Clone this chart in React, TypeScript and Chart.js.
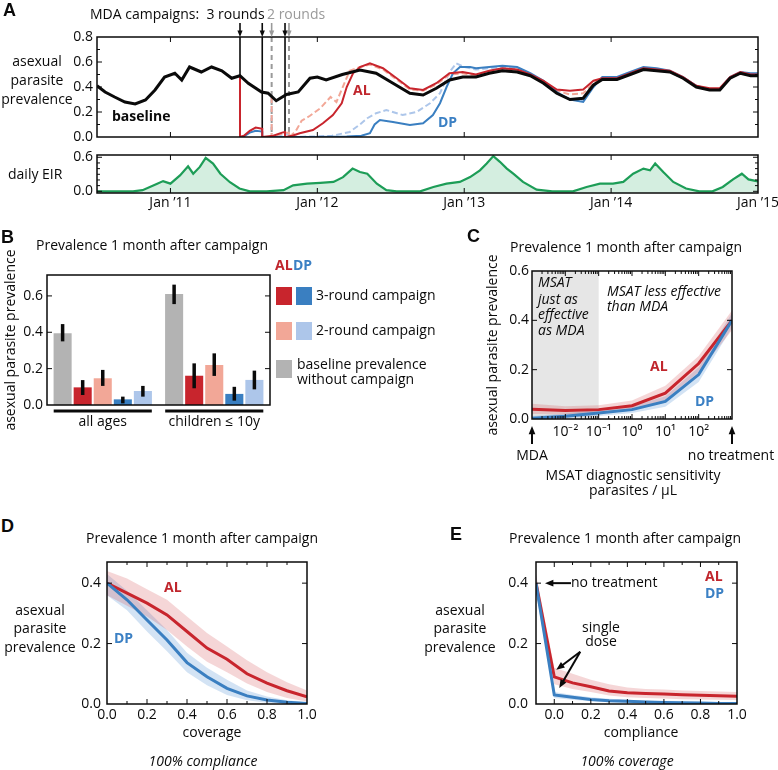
import React, { useEffect, useRef } from 'react';
import { Chart, registerables } from 'chart.js';

Chart.register(...registerables);

const FONT = "'Open Sans', sans-serif";
const INK = '#0a0a0a';
const RED = '#c8252d';
const PINK = '#f2a797';
const BLUE = '#3a7fc1';
const LBLUE = '#adc6ea';
const GRAY = '#b3b3b3';
const GREEN = '#1d9d57';

// ---------------- Panel A: prevalence time series (decimal years) ----------------
const yearTicks = [2011, 2012, 2013, 2014, 2015];
const threeRounds = [2011.4735, 2011.625, 2011.78];
const twoRounds = [2011.689, 2011.807];

const baseT = [2010.5, 2010.555, 2010.62, 2010.69, 2010.76, 2010.83, 2010.895, 2010.96, 2011.03, 2011.077, 2011.13, 2011.21, 2011.28, 2011.35, 2011.417, 2011.473, 2011.53, 2011.62, 2011.665, 2011.72, 2011.79, 2011.87, 2011.95, 2012.0, 2012.06, 2012.17, 2012.29, 2012.4, 2012.515, 2012.63, 2012.72, 2012.81, 2012.9, 2012.99, 2013.08, 2013.17, 2013.26, 2013.36, 2013.45, 2013.54, 2013.63, 2013.72, 2013.81, 2013.88, 2013.94, 2014.04, 2014.13, 2014.22, 2014.31, 2014.4, 2014.49, 2014.58, 2014.67, 2014.74, 2014.81, 2014.88, 2014.95, 2015.0];
const baseV = [0.41, 0.36, 0.32, 0.28, 0.264, 0.296, 0.376, 0.48, 0.51, 0.456, 0.56, 0.52, 0.56, 0.53, 0.47, 0.49, 0.43, 0.36, 0.35, 0.29, 0.34, 0.36, 0.47, 0.48, 0.456, 0.5, 0.536, 0.51, 0.43, 0.35, 0.336, 0.39, 0.456, 0.48, 0.48, 0.51, 0.53, 0.52, 0.49, 0.43, 0.35, 0.3, 0.31, 0.416, 0.46, 0.46, 0.5, 0.54, 0.53, 0.52, 0.47, 0.4, 0.376, 0.376, 0.47, 0.51, 0.49, 0.49];

const al3T = [2011.4735, 2011.4735, 2011.5, 2011.54, 2011.58, 2011.615, 2011.625, 2011.625, 2011.7, 2011.76, 2011.78, 2011.78, 2011.83, 2011.88, 2011.97, 2012.038, 2012.106, 2012.166, 2012.2, 2012.243, 2012.29, 2012.358, 2012.447, 2012.54, 2012.63, 2012.72, 2012.81, 2012.9, 2012.99];
const al3V = [0.49, 0, 0.01, 0.05, 0.075, 0.068, 0.065, 0, 0.01, 0.035, 0.04, 0, 0.01, 0.03, 0.056, 0.11, 0.176, 0.27, 0.4, 0.51, 0.56, 0.59, 0.55, 0.47, 0.39, 0.376, 0.43, 0.51, 0.52];
const al2T = [2011.689, 2011.689, 2011.74, 2011.79, 2011.807, 2011.807, 2011.85, 2011.893, 2011.95, 2012.02, 2012.09, 2012.13, 2012.17, 2012.22, 2012.29, 2012.358, 2012.447, 2012.54, 2012.63, 2012.72, 2012.81, 2012.9, 2012.99];
const al2V = [0.32, 0, 0.02, 0.035, 0.035, 0, 0.04, 0.13, 0.17, 0.23, 0.32, 0.28, 0.39, 0.53, 0.56, 0.58, 0.54, 0.46, 0.38, 0.37, 0.42, 0.5, 0.51];
const dp3T = [2011.4735, 2011.4735, 2011.5, 2011.54, 2011.58, 2011.615, 2011.625, 2011.625, 2011.7, 2011.8, 2011.9, 2012.0, 2012.1, 2012.2, 2012.3, 2012.358, 2012.39, 2012.426, 2012.515, 2012.63, 2012.72, 2012.787, 2012.835, 2012.88, 2012.923, 2012.971, 2013.04];
const dp3V = [0.49, 0, 0.005, 0.035, 0.05, 0.045, 0.04, 0, 0, 0, 0, 0, 0.003, 0.005, 0.01, 0.03, 0.1, 0.136, 0.12, 0.096, 0.11, 0.176, 0.27, 0.4, 0.51, 0.56, 0.56];
const dp2T = [2011.689, 2011.689, 2011.75, 2011.795, 2011.807, 2011.807, 2011.9, 2012.0, 2012.1, 2012.22, 2012.29, 2012.34, 2012.4, 2012.47, 2012.58, 2012.676, 2012.767, 2012.835, 2012.9, 2012.946, 2013.0];
const dp2V = [0.32, 0, 0.015, 0.025, 0.025, 0, 0.003, 0.005, 0.01, 0.04, 0.1, 0.15, 0.19, 0.216, 0.176, 0.2, 0.27, 0.35, 0.52, 0.59, 0.56];

const lateT = [2013.08, 2013.17, 2013.26, 2013.36, 2013.45, 2013.54, 2013.63, 2013.72, 2013.81, 2013.88, 2013.94, 2014.04, 2014.13, 2014.22, 2014.31, 2014.4, 2014.49, 2014.58, 2014.67, 2014.74, 2014.81, 2014.88, 2014.95, 2015.0];
const al3Late = [0.5, 0.53, 0.55, 0.54, 0.5, 0.45, 0.38, 0.37, 0.38, 0.45, 0.47, 0.47, 0.51, 0.55, 0.54, 0.53, 0.48, 0.41, 0.39, 0.39, 0.48, 0.52, 0.5, 0.5];
const al2Late = [0.49, 0.52, 0.54, 0.53, 0.49, 0.44, 0.37, 0.34, 0.35, 0.43, 0.47, 0.46, 0.5, 0.54, 0.53, 0.52, 0.47, 0.4, 0.38, 0.38, 0.47, 0.51, 0.49, 0.49];
const dp3Late = [0.55, 0.56, 0.57, 0.56, 0.51, 0.45, 0.36, 0.3, 0.28, 0.4, 0.48, 0.48, 0.52, 0.56, 0.55, 0.53, 0.48, 0.41, 0.38, 0.385, 0.48, 0.52, 0.51, 0.51];
const dp2Late = [0.54, 0.55, 0.56, 0.55, 0.5, 0.44, 0.35, 0.3, 0.29, 0.41, 0.47, 0.47, 0.51, 0.55, 0.54, 0.52, 0.47, 0.4, 0.38, 0.38, 0.47, 0.51, 0.5, 0.51];

const eirT = [2010.5, 2010.745, 2010.81, 2010.91, 2010.95, 2011.0, 2011.065, 2011.12, 2011.155, 2011.2, 2011.24, 2011.29, 2011.34, 2011.405, 2011.47, 2011.54, 2011.655, 2011.77, 2011.835, 2011.93, 2012.02, 2012.11, 2012.175, 2012.24, 2012.29, 2012.34, 2012.405, 2012.47, 2012.54, 2012.7, 2012.79, 2012.88, 2012.97, 2013.04, 2013.107, 2013.153, 2013.198, 2013.243, 2013.29, 2013.334, 2013.4, 2013.493, 2013.6, 2013.74, 2013.833, 2013.924, 2014.013, 2014.083, 2014.15, 2014.22, 2014.265, 2014.3, 2014.355, 2014.423, 2014.51, 2014.6, 2014.69, 2014.76, 2014.83, 2014.89, 2014.935, 2014.99, 2015.0];
const eirV = [0, 0, 0.02, 0.135, 0.18, 0.135, 0.28, 0.44, 0.31, 0.43, 0.59, 0.49, 0.31, 0.16, 0.05, 0, 0, 0.02, 0.106, 0.135, 0.15, 0.165, 0.25, 0.4, 0.34, 0.31, 0.135, 0.02, 0, 0, 0.076, 0.135, 0.165, 0.25, 0.37, 0.49, 0.62, 0.52, 0.4, 0.31, 0.165, 0.03, 0, 0, 0.076, 0.135, 0.135, 0.165, 0.31, 0.4, 0.37, 0.49, 0.34, 0.165, 0.05, 0, 0, 0.076, 0.21, 0.31, 0.21, 0.18, 0.17];

// ---------------- Panel B: bars ----------------
const groups = ['all ages', 'children \u2264 10y'];
const barBase = [0.394, 0.611];
const barBaseLo = [0.35, 0.555];
const barBaseHi = [0.445, 0.662];
const barAL3 = [0.097, 0.161];
const barAL3Lo = [0.055, 0.092];
const barAL3Hi = [0.137, 0.229];
const barAL2 = [0.147, 0.22];
const barAL2Lo = [0.105, 0.16];
const barAL2Hi = [0.193, 0.284];
const barDP3 = [0.031, 0.061];
const barDP3Lo = [0.009, 0.024];
const barDP3Hi = [0.046, 0.1];
const barDP2 = [0.077, 0.138];
const barDP2Lo = [0.046, 0.086];
const barDP2Hi = [0.105, 0.189];

// ---------------- Panel C: MSAT sensitivity ----------------
const msatX = [0.001, 0.01, 0.1, 1, 10, 100, 1000];
const cAL = [0.04, 0.034, 0.038, 0.054, 0.105, 0.225, 0.4];
const cALhi = [0.062, 0.052, 0.056, 0.075, 0.135, 0.255, 0.44];
const cALlo = [0.02, 0.018, 0.021, 0.034, 0.078, 0.19, 0.36];
const cDP = [0.003, 0.011, 0.024, 0.038, 0.071, 0.18, 0.4];
const cDPhi = [0.012, 0.022, 0.037, 0.052, 0.092, 0.21, 0.43];
const cDPlo = [0, 0.003, 0.012, 0.024, 0.05, 0.15, 0.37];
const cTicks = [0.01, 0.1, 1, 10, 100];

// ---------------- Panel D: coverage ----------------
const coverage = [0, 0.1, 0.2, 0.3, 0.4, 0.5, 0.6, 0.7, 0.8, 0.9, 1.0];
const dAL = [0.4, 0.367, 0.334, 0.295, 0.24, 0.185, 0.148, 0.1, 0.069, 0.044, 0.024];
const dALhi = [0.44, 0.415, 0.38, 0.345, 0.29, 0.235, 0.19, 0.145, 0.105, 0.072, 0.045];
const dALlo = [0.36, 0.325, 0.29, 0.245, 0.19, 0.14, 0.105, 0.068, 0.04, 0.02, 0.008];
const dDP = [0.4, 0.345, 0.278, 0.212, 0.137, 0.09, 0.052, 0.027, 0.013, 0.006, 0.002];
const dDPhi = [0.43, 0.375, 0.31, 0.245, 0.17, 0.12, 0.08, 0.045, 0.025, 0.012, 0.005];
const dDPlo = [0.36, 0.31, 0.24, 0.175, 0.105, 0.062, 0.03, 0.012, 0.004, 0.001, 0];

// ---------------- Panel E: compliance ----------------
const compliance = [-0.1, 0, 0.1, 0.2, 0.3, 0.4, 0.5, 0.6, 0.7, 0.8, 0.9, 1.0];
const eAL = [0.4, 0.09, 0.07, 0.057, 0.043, 0.037, 0.035, 0.033, 0.031, 0.029, 0.027, 0.026];
const eALhi = [0.43, 0.12, 0.1, 0.08, 0.065, 0.055, 0.05, 0.048, 0.045, 0.043, 0.041, 0.04];
const eALlo = [0.37, 0.065, 0.05, 0.04, 0.028, 0.022, 0.02, 0.018, 0.016, 0.015, 0.014, 0.013];
const eDP = [0.4, 0.03, 0.022, 0.015, 0.011, 0.009, 0.007, 0.005, 0.004, 0.003, 0.002, 0.002];
const eDPhi = [0.43, 0.04, 0.03, 0.022, 0.017, 0.014, 0.011, 0.009, 0.007, 0.006, 0.005, 0.004];
const eDPlo = [0.37, 0.02, 0.014, 0.009, 0.006, 0.004, 0.003, 0.002, 0.001, 0.001, 0, 0];
const unitTicks = [0, 0.2, 0.4, 0.6, 0.8, 1.0];

// ---------------- helpers ----------------
const zip = (t: number[], v: number[]) =>
  t.slice(0, Math.min(t.length, v.length)).map((x, i) => ({ x, y: v[i] }));

const seg = (ctx: any, x1: number, y1: number, x2: number, y2: number) => {
  ctx.beginPath();
  ctx.moveTo(x1, y1);
  ctx.lineTo(x2, y2);
  ctx.stroke();
};

const arrow = (ctx: any, x1: number, y1: number, x2: number, y2: number, color = INK, lw = 2, head = 8) => {
  const ang = Math.atan2(y2 - y1, x2 - x1);
  ctx.save();
  ctx.strokeStyle = color;
  ctx.fillStyle = color;
  ctx.lineWidth = lw;
  ctx.setLineDash([]);
  seg(ctx, x1, y1, x2 - Math.cos(ang) * head * 0.7, y2 - Math.sin(ang) * head * 0.7);
  ctx.beginPath();
  ctx.moveTo(x2, y2);
  ctx.lineTo(x2 - head * Math.cos(ang - 0.38), y2 - head * Math.sin(ang - 0.38));
  ctx.lineTo(x2 - head * Math.cos(ang + 0.38), y2 - head * Math.sin(ang + 0.38));
  ctx.closePath();
  ctx.fill();
  ctx.restore();
};

let pid = 0;
type FrameOpt = { xMinor?: number[]; yMinor?: number[]; noX?: boolean; logMinor?: boolean; len?: number };
const frame = (o: FrameOpt) => ({
  id: 'frame' + pid++,
  afterDatasetsDraw(chart: any) {
    const { ctx, chartArea: a, scales } = chart;
    const xs = scales.x;
    const ys = scales.y;
    const L = o.len ?? 5;
    const M = 3;
    ctx.save();
    ctx.strokeStyle = INK;
    ctx.lineWidth = 1;
    const doX = (vals: number[], len: number) =>
      vals.forEach((v) => {
        const p = xs.getPixelForValue(v);
        if (p < a.left + 1 || p > a.right - 1) return;
        seg(ctx, p, a.bottom, p, a.bottom - len);
        seg(ctx, p, a.top, p, a.top + len);
      });
    const doY = (vals: number[], len: number) =>
      vals.forEach((v) => {
        const p = ys.getPixelForValue(v);
        if (p < a.top + 1 || p > a.bottom - 1) return;
        seg(ctx, a.left, p, a.left + len, p);
        seg(ctx, a.right, p, a.right - len, p);
      });
    if (!o.noX) {
      doX(xs.ticks.map((t: any) => t.value), L);
      if (o.xMinor) doX(o.xMinor, M);
      if (o.logMinor) {
        const mins: number[] = [];
        for (let e = -3; e < 3; e++) for (let k = 2; k <= 9; k++) mins.push(k * Math.pow(10, e));
        doX(mins, M);
      }
    }
    doY(ys.ticks.map((t: any) => t.value), L);
    if (o.yMinor) doY(o.yMinor, M);
    ctx.lineWidth = 1.5;
    ctx.strokeRect(a.left, a.top, a.right - a.left, a.bottom - a.top);
    ctx.restore();
  },
});

const tickFont = { size: 14, family: FONT };

const yAxis = (min: number, max: number, ticks: number[], width: number, pad: number, extra: any = {}) => ({
  type: 'linear',
  min,
  max,
  grid: { display: false, drawTicks: false },
  border: { display: false },
  ticks: { padding: pad, color: INK, font: tickFont, callback: (v: any) => Number(v).toFixed(1) },
  afterBuildTicks: (s: any) => {
    s.ticks = ticks.map((value) => ({ value }));
  },
  afterFit: (s: any) => {
    s.width = width;
    s.paddingTop = 0;
    s.paddingBottom = 0;
  },
  ...extra,
});

const xAxis = (min: number, max: number, ticks: number[], height: number, pad: number, cb: any, show = true, extra: any = {}) => ({
  type: 'linear',
  min,
  max,
  grid: { display: false, drawTicks: false },
  border: { display: false },
  ticks: { display: show, padding: pad, color: INK, font: tickFont, maxRotation: 0, autoSkip: false, callback: cb },
  afterBuildTicks: (s: any) => {
    s.ticks = ticks.map((value) => ({ value }));
  },
  afterFit: (s: any) => {
    s.height = height;
    s.paddingLeft = 0;
    s.paddingRight = 0;
  },
  ...extra,
});

const line = (data: any[], color: string, width: number, dash: number[] = []) => ({
  data,
  borderColor: color,
  backgroundColor: color,
  borderWidth: width,
  borderDash: dash,
  pointRadius: 0,
  fill: false,
  tension: 0,
});

const band = (data: any[], bg: string, fill: any) => ({
  data,
  borderColor: 'rgba(0,0,0,0)',
  backgroundColor: bg,
  borderWidth: 0,
  pointRadius: 0,
  fill,
  tension: 0,
});

const baseOpts = (padding: any) => ({
  responsive: false,
  animation: false as const,
  maintainAspectRatio: false,
  layout: { padding },
  plugins: { legend: { display: false }, tooltip: { enabled: false } },
});

const yearLabel = (v: any) => 'Jan \u2019' + String(v).slice(2);
const fmt1 = (v: any) => Number(v).toFixed(1);
const supMap: Record<string, string> = { '-': '\u207B', '0': '\u2070', '1': '\u00B9', '2': '\u00B2', '3': '\u00B3' };
const logLabel = (v: any) =>
  '10' + String(Math.round(Math.log10(Number(v)))).split('').map((c) => supMap[c] || c).join('');

const ALBAND = 'rgba(208,70,75,0.22)';
const DPBAND = 'rgba(80,145,210,0.25)';

// ---------------- chart configs ----------------
function cfgA1(): any {
  const campaigns = {
    id: 'campaigns',
    beforeDatasetsDraw(chart: any) {
      const { ctx, chartArea: a, scales } = chart;
      ctx.save();
      ctx.strokeStyle = INK;
      ctx.lineWidth = 1.6;
      threeRounds.forEach((t) => {
        const p = scales.x.getPixelForValue(t);
        seg(ctx, p, a.top, p, a.bottom);
      });
      ctx.strokeStyle = '#9a9a9a';
      ctx.lineWidth = 2;
      ctx.setLineDash([5, 4]);
      twoRounds.forEach((t) => {
        const p = scales.x.getPixelForValue(t);
        seg(ctx, p, a.top, p, a.bottom);
      });
      ctx.restore();
    },
    afterDraw(chart: any) {
      const { ctx, chartArea: a, scales } = chart;
      threeRounds.forEach((t) => {
        const p = scales.x.getPixelForValue(t);
        arrow(ctx, p, a.top - 14, p, a.top, INK, 1.6, 7);
      });
      twoRounds.forEach((t) => {
        const p = scales.x.getPixelForValue(t);
        arrow(ctx, p, a.top - 14, p, a.top, '#9a9a9a', 1.6, 7);
      });
    },
  };
  return {
    type: 'line',
    data: {
      datasets: [
        line(zip(baseT, baseV), INK, 3),
        line(zip(al3T, al3V).concat(zip(lateT, al3Late)), RED, 2),
        line(zip(dp3T, dp3V).concat(zip(lateT, dp3Late)), BLUE, 2),
        line(zip(al2T, al2V).concat(zip(lateT, al2Late)), PINK, 2, [6, 3]),
        line(zip(dp2T, dp2V).concat(zip(lateT, dp2Late)), LBLUE, 2, [6, 3]),
      ],
    },
    options: {
      ...baseOpts({ top: 17, right: 20, left: 0, bottom: 0 }),
      scales: {
        x: xAxis(2010.5, 2015, yearTicks, 8, 2, yearLabel, false),
        y: yAxis(0, 0.8, [0, 0.2, 0.4, 0.6, 0.8], 97, 4),
      },
    },
    plugins: [campaigns, frame({ yMinor: [0.1, 0.3, 0.5, 0.7] })],
  };
}

function cfgA2(): any {
  return {
    type: 'line',
    data: {
      datasets: [
        {
          ...line(zip(eirT, eirV), GREEN, 2.2),
          fill: 'start',
          backgroundColor: 'rgba(40,170,100,0.2)',
        },
      ],
    },
    options: {
      ...baseOpts({ top: 7, right: 20, left: 0, bottom: 0 }),
      scales: {
        x: xAxis(2010.5, 2015, yearTicks, 35, 2, yearLabel, true),
        y: yAxis(-0.03, 0.64, [0, 0.6], 97, 4),
      },
    },
    plugins: [frame({ yMinor: [0.1, 0.2, 0.3, 0.4, 0.5] })],
  };
}

function cfgB(): any {
  const errLo = [barBaseLo, barAL3Lo, barAL2Lo, barDP3Lo, barDP2Lo];
  const errHi = [barBaseHi, barAL3Hi, barAL2Hi, barDP3Hi, barDP2Hi];
  const extras = {
    id: 'bExtras',
    afterDatasetsDraw(chart: any) {
      const { ctx, chartArea: a, scales } = chart;
      ctx.save();
      ctx.strokeStyle = INK;
      ctx.lineWidth = 3.5;
      errLo.forEach((lo, i) => {
        const meta = chart.getDatasetMeta(i);
        meta.data.forEach((el: any, j: number) => {
          seg(ctx, el.x, scales.y.getPixelForValue(lo[j]), el.x, scales.y.getPixelForValue(errHi[i][j]));
        });
      });
      ctx.lineWidth = 3;
      const half = ((a.right - a.left) / groups.length) * 0.44;
      groups.forEach((_, j) => {
        const c = scales.x.getPixelForValue(j);
        seg(ctx, c - half, a.bottom + 6, c + half, a.bottom + 6);
      });
      ctx.restore();
    },
  };
  const bar = (data: number[], color: string) => ({
    data,
    backgroundColor: color,
    borderWidth: 0,
    barPercentage: 0.9,
    categoryPercentage: 0.9,
  });
  return {
    type: 'bar',
    data: {
      labels: groups,
      datasets: [bar(barBase, GRAY), bar(barAL3, RED), bar(barAL2, PINK), bar(barDP3, BLUE), bar(barDP2, LBLUE)],
    },
    options: {
      ...baseOpts({ top: 35, right: 20, left: 0, bottom: 0 }),
      scales: {
        x: {
          type: 'category',
          grid: { display: false, drawTicks: false },
          border: { display: false },
          ticks: { padding: 9, color: INK, font: tickFont, maxRotation: 0 },
          afterFit: (s: any) => {
            s.height = 35;
            s.paddingLeft = 0;
            s.paddingRight = 0;
          },
        },
        y: yAxis(0, 0.715, [0, 0.2, 0.4, 0.6], 47, 4, {
          title: { display: true, text: 'asexual parasite prevalence', color: INK, font: tickFont, padding: { top: 3, bottom: 0 } },
        }),
      },
    },
    plugins: [extras, frame({ noX: true })],
  };
}

function cfgC(): any {
  const extras = {
    id: 'cExtras',
    beforeDatasetsDraw(chart: any) {
      const { ctx, chartArea: a, scales } = chart;
      const x0 = scales.x.getPixelForValue(msatX[0]);
      const x1 = scales.x.getPixelForValue(0.1);
      ctx.save();
      ctx.fillStyle = '#e6e6e6';
      ctx.fillRect(x0, a.top, x1 - x0, a.bottom - a.top);
      ctx.restore();
    },
    afterDraw(chart: any) {
      const { ctx, chartArea: a, scales } = chart;
      [msatX[0], msatX[msatX.length - 1]].forEach((v) => {
        const p = scales.x.getPixelForValue(v);
        arrow(ctx, p, a.bottom + 25, p, a.bottom + 7, INK, 2, 9);
      });
    },
  };
  return {
    type: 'line',
    data: {
      datasets: [
        line(zip(msatX, cDP), BLUE, 3),
        line(zip(msatX, cAL), RED, 3),
        band(zip(msatX, cALhi), ALBAND, '+1'),
        band(zip(msatX, cALlo), ALBAND, false),
        band(zip(msatX, cDPhi), DPBAND, '+1'),
        band(zip(msatX, cDPlo), DPBAND, false),
      ],
    },
    options: {
      ...baseOpts({ top: 26, right: 46, left: 0, bottom: 0 }),
      scales: {
        x: xAxis(0.001, 1000, cTicks, 30, 5, logLabel, true, { type: 'logarithmic' }),
        y: yAxis(0, 0.6, [0, 0.2, 0.4, 0.6], 51, 3, {
          title: { display: true, text: 'asexual parasite prevalence', color: INK, font: tickFont, padding: { top: 4, bottom: 0 } },
        }),
      },
    },
    plugins: [extras, frame({ logMinor: true })],
  };
}

function cfgD(): any {
  return {
    type: 'line',
    data: {
      datasets: [
        line(zip(coverage, dDP), BLUE, 3),
        line(zip(coverage, dAL), RED, 3),
        band(zip(coverage, dALhi), ALBAND, '+1'),
        band(zip(coverage, dALlo), ALBAND, false),
        band(zip(coverage, dDPhi), DPBAND, '+1'),
        band(zip(coverage, dDPlo), DPBAND, false),
      ],
    },
    options: {
      ...baseOpts({ top: 17, right: 23, left: 0, bottom: 0 }),
      scales: {
        x: xAxis(0, 1, unitTicks, 31, 3, fmt1),
        y: yAxis(0, 0.47, [0, 0.2, 0.4], 52, 6),
      },
    },
    plugins: [frame({ xMinor: [0.1, 0.3, 0.5, 0.7, 0.9] })],
  };
}

function cfgE(): any {
  const extras = {
    id: 'eExtras',
    afterDraw(chart: any) {
      const { ctx } = chart;
      const dp = chart.getDatasetMeta(0).data;
      const al = chart.getDatasetMeta(1).data;
      const p = dp[0];
      arrow(ctx, p.x + 35, p.y, p.x + 9, p.y, INK, 2, 9);
      const a0 = al[1];
      const d0 = dp[1];
      const tx = a0.x + 26;
      const ty = a0.y - 25;
      arrow(ctx, tx, ty, a0.x + 2, a0.y - 7, INK, 2, 9);
      arrow(ctx, tx, ty, d0.x + 5, d0.y - 7, INK, 2, 9);
    },
  };
  return {
    type: 'line',
    data: {
      datasets: [
        line(zip(compliance, eDP), BLUE, 3),
        line(zip(compliance, eAL), RED, 3),
        band(zip(compliance, eALhi), ALBAND, '+1'),
        band(zip(compliance, eALlo), ALBAND, false),
        band(zip(compliance, eDPhi), DPBAND, '+1'),
        band(zip(compliance, eDPlo), DPBAND, false),
      ],
    },
    options: {
      ...baseOpts({ top: 17, right: 33, left: 0, bottom: 0 }),
      scales: {
        x: xAxis(-0.1, 1, unitTicks, 31, 3, fmt1),
        y: yAxis(0, 0.47, [0, 0.2, 0.4], 56, 8),
      },
    },
    plugins: [extras, frame({ xMinor: [0.1, 0.3, 0.5, 0.7, 0.9] })],
  };
}

// ---------------- layout ----------------
const boxes: [number, number, number, number][] = [
  [0, 20, 778, 125],
  [0, 148, 778, 80],
  [0, 240, 290, 200],
  [481, 245, 297, 204],
  [55, 545, 275, 190],
  [480, 545, 290, 190],
];
const makers = [cfgA1, cfgA2, cfgB, cfgC, cfgD, cfgE];

type TP = {
  x: number;
  y: number;
  a?: 'l' | 'c' | 'r';
  s?: number;
  w?: number;
  c?: string;
  i?: boolean;
  f?: string;
  children: React.ReactNode;
};
function T({ x, y, a = 'l', s = 14, w = 400, c = INK, i = false, f = FONT, children }: TP) {
  const tx = a === 'c' ? '-50%' : a === 'r' ? '-100%' : '0';
  return (
    <div
      style={{
        position: 'absolute',
        left: x,
        top: y,
        transform: `translate(${tx}, -55%)`,
        fontSize: s,
        fontWeight: w,
        color: c,
        fontStyle: i ? 'italic' : 'normal',
        fontFamily: f,
        whiteSpace: 'nowrap',
        lineHeight: 1,
      }}
    >
      {children}
    </div>
  );
}

const LETTER = "'Liberation Sans', Arial, sans-serif";
const TXT_RED = '#c0262d';
const TXT_BLUE = '#3b80c4';

function Sq({ x, y, c }: { x: number; y: number; c: string }) {
  return <div style={{ position: 'absolute', left: x, top: y, width: 16, height: 18, background: c }} />;
}

export default function App() {
  const refs = [
    useRef<HTMLCanvasElement>(null),
    useRef<HTMLCanvasElement>(null),
    useRef<HTMLCanvasElement>(null),
    useRef<HTMLCanvasElement>(null),
    useRef<HTMLCanvasElement>(null),
    useRef<HTMLCanvasElement>(null),
  ];
  useEffect(() => {
    const charts = makers.map((mk, k) => new Chart(refs[k].current as HTMLCanvasElement, mk()));
    return () => charts.forEach((ch) => ch.destroy());
  }, []);

  return (
    <div
      style={{
        position: 'absolute',
        left: 0,
        top: 0,
        width: 778,
        height: 770,
        background: '#fff',
        overflow: 'hidden',
        fontFamily: FONT,
      }}
    >
      {boxes.map(([l, t, w, h], k) => (
        <canvas
          key={k}
          ref={refs[k]}
          width={w}
          height={h}
          style={{ position: 'absolute', left: l, top: t, width: w, height: h }}
        />
      ))}

      {/* Panel A */}
      <T x={3} y={11} s={18} w={700} f={LETTER}>A</T>
      <T x={90} y={15}>MDA campaigns:{'\u00a0\u00a0'}3 rounds</T>
      <T x={267} y={15} c="#9a9a9a">2 rounds</T>
      <T x={37} y={62} a="c">asexual</T>
      <T x={37} y={81} a="c">parasite</T>
      <T x={37} y={100} a="c">prevalence</T>
      <T x={112} y={117} w={700}>baseline</T>
      <T x={353} y={91} w={700} c={TXT_RED}>AL</T>
      <T x={438} y={123} w={700} c={TXT_BLUE}>DP</T>
      <T x={8} y={175}>daily EIR</T>

      {/* Panel B */}
      <T x={1} y={238} s={18} w={700} f={LETTER}>B</T>
      <T x={36} y={246}>Prevalence 1 month after campaign</T>
      <T x={275} y={266} w={700} c={TXT_RED}>AL</T>
      <T x={293} y={266} w={700} c={TXT_BLUE}>DP</T>
      <Sq x={276} y={287} c={RED} />
      <Sq x={296} y={287} c={BLUE} />
      <Sq x={276} y={322} c={PINK} />
      <Sq x={296} y={322} c={LBLUE} />
      <Sq x={276} y={360} c={GRAY} />
      <T x={316} y={296}>3-round campaign</T>
      <T x={316} y={331}>2-round campaign</T>
      <T x={297} y={365}>baseline prevalence</T>
      <T x={297} y={380}>without campaign</T>

      {/* Panel C */}
      <T x={467} y={237} s={18} w={700} f={LETTER}>C</T>
      <T x={510} y={248}>Prevalence 1 month after campaign</T>
      <T x={538} y={283} i>MSAT</T>
      <T x={538} y={300} i>just as</T>
      <T x={538} y={315} i>effective</T>
      <T x={538} y={331} i>as MDA</T>
      <T x={607} y={292} i>MSAT less effective</T>
      <T x={607} y={307} i>than MDA</T>
      <T x={650} y={367} w={700} c={TXT_RED}>AL</T>
      <T x={695} y={402} w={700} c={TXT_BLUE}>DP</T>
      <T x={532} y={456} a="c">MDA</T>
      <T x={731} y={456} a="c">no treatment</T>
      <T x={633} y={476} a="c">MSAT diagnostic sensitivity</T>
      <T x={633} y={491} a="c">parasites / μL</T>

      {/* Panel D */}
      <T x={1} y={527} s={18} w={700} f={LETTER}>D</T>
      <T x={202} y={539} a="c">Prevalence 1 month after campaign</T>
      <T x={164} y={588} w={700} c={TXT_RED}>AL</T>
      <T x={114} y={639} w={700} c={TXT_BLUE}>DP</T>
      <T x={40} y={611} a="c">asexual</T>
      <T x={40} y={629} a="c">parasite</T>
      <T x={40} y={648} a="c">prevalence</T>
      <T x={212} y={733} a="c">coverage</T>
      <T x={203} y={762} a="c" i>100% compliance</T>

      {/* Panel E */}
      <T x={450} y={535} s={18} w={700} f={LETTER}>E</T>
      <T x={625} y={539} a="c">Prevalence 1 month after campaign</T>
      <T x={460} y={611} a="c">asexual</T>
      <T x={460} y={629} a="c">parasite</T>
      <T x={460} y={648} a="c">prevalence</T>
      <T x={571} y={583}>no treatment</T>
      <T x={705} y={577} w={700} c={TXT_RED}>AL</T>
      <T x={705} y={594} w={700} c={TXT_BLUE}>DP</T>
      <T x={601} y={628} a="c">single</T>
      <T x={601} y={642} a="c">dose</T>
      <T x={641} y={733} a="c">compliance</T>
      <T x={627} y={762} a="c" i>100% coverage</T>
    </div>
  );
}
